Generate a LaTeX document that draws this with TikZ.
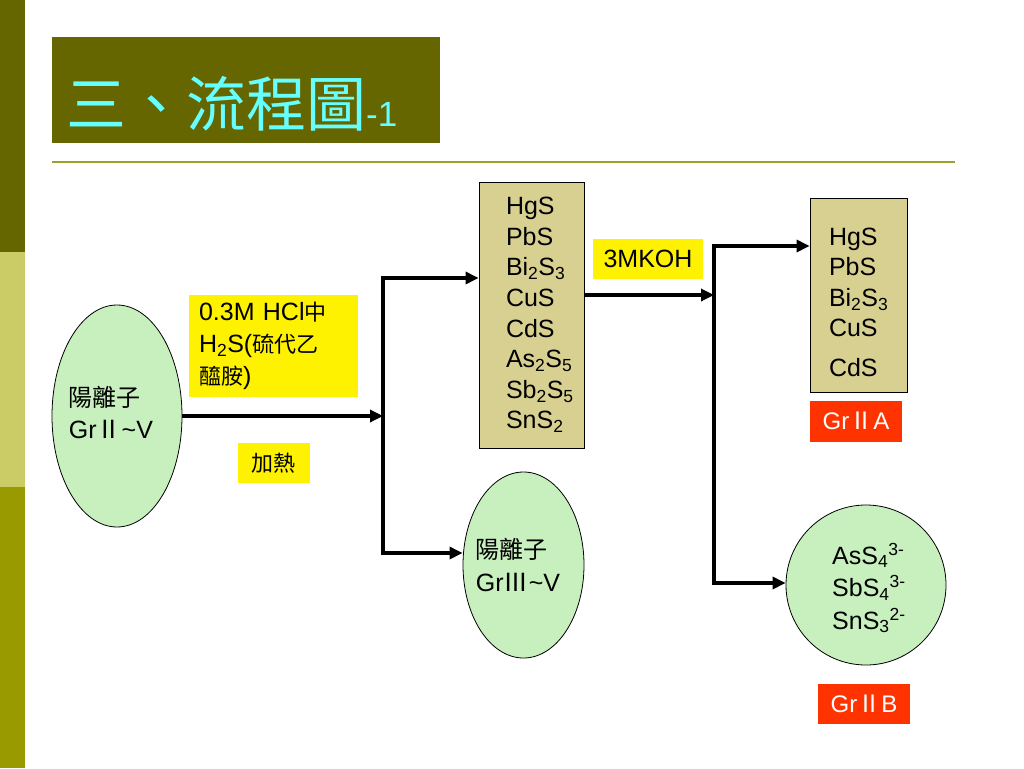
\documentclass[tikz,border=0pt]{standalone}
\usepackage{fontspec}
\setmainfont{Liberation Sans}
\newfontfamily\cjk{Noto Sans CJK TC}
\usepackage{tikz}
\usetikzlibrary{shapes,arrows,arrows.meta,positioning,fit,backgrounds}
\definecolor{olivedark}{RGB}{102,102,0}
\definecolor{olivemid}{RGB}{153,153,0}
\definecolor{olivelight}{RGB}{204,204,102}
\definecolor{rulecol}{RGB}{160,160,40}
\definecolor{titlecyan}{RGB}{102,255,255}
\definecolor{tan}{RGB}{215,208,145}
\definecolor{mint}{RGB}{200,240,190}
\definecolor{tagred}{RGB}{255,51,0}
\newcommand{\zh}[2][22]{{\cjk\fontsize{#1}{#1}\selectfont #2}}
\tikzstyle{tanbox} = [rectangle, draw=black, line width=0.8pt, fill=tan, align=left, inner ysep=0pt, font=\fontsize{25}{30.6}\selectfont]
\tikzstyle{cation} = [ellipse, draw=black, line width=0.8pt, fill=mint]
\tikzstyle{iontext} = [align=left, inner sep=0pt, font=\fontsize{25}{32.5}\selectfont]
\tikzstyle{reagent} = [rectangle, fill=yellow, align=left, font=\fontsize{25}{32}\selectfont]
\tikzstyle{grouptag} = [rectangle, fill=tagred, text=white, font=\fontsize{24}{28}\selectfont]
\tikzstyle{tedge}  = [draw, line width=3.2pt, -{Triangle[length=13pt,width=12pt]}]

\begin{document}
\begin{tikzpicture}[x=1pt, y=-1pt]
\useasboundingbox (0,0) rectangle (1024,768);

% side bar and title =============================
\fill[olivedark] (0,0) rectangle (25,252);
\fill[olivelight] (0,252) rectangle (25,487);
\fill[olivemid] (0,487) rectangle (25,768);
\node[rectangle, fill=olivedark, minimum width=388pt, minimum height=106pt, anchor=north west] (titlebar) at (52,37) {};
\node[anchor=base west, inner sep=0pt, text=titlecyan] (title) at (66,126) {\zh[60]{三、流程圖}{\fontsize{35}{40}\selectfont -1}};
\draw[rulecol, line width=2pt] (52,162) -- (955,162);

% cations =============================
\node[cation, minimum width=130pt, minimum height=222pt] (ion2) at (117,416) {};
\node[iontext] (ion2txt) at ([xshift=-6pt, yshift=3.5pt]ion2.center) {\zh[24]{陽離子}\\Gr{\cjk Ⅱ}\textasciitilde V};
\node[cation, minimum width=121pt, minimum height=186pt] (ion3) at (523.5,565) {};
\node[iontext] (ion3txt) at ([xshift=-5.5pt]ion3.center) {\zh[24]{陽離子}\\Gr{\cjk Ⅲ}\textasciitilde V};

% reagents
\node[reagent, minimum width=169pt, minimum height=102pt, text width=149pt, inner xsep=10pt] (hcl) at (273.5,346) {0.3M HCl\zh{中}\\H\textsubscript{2}S(\zh{硫代乙}\\\zh{醯胺})};
\node[reagent, minimum width=72pt, minimum height=40pt, below=46pt of hcl] (heat) {\zh{加熱}};
\node[reagent, minimum width=110pt, minimum height=40pt] (koh) at (648,259) {3MKOH};

% precipitates
\node[tanbox, minimum width=105pt, minimum height=266pt, text width=51pt, inner xsep=27pt] (precip) at (531.5,315) {HgS\\PbS\\Bi\textsubscript{2}S\textsubscript{3}\\CuS\\CdS\\As\textsubscript{2}S\textsubscript{5}\\Sb\textsubscript{2}S\textsubscript{5}\\SnS\textsubscript{2}};
\node[tanbox, minimum width=97pt, minimum height=194pt, text width=59pt, inner xsep=19pt] (grpA) at (858.5,295) {\rule{0pt}{32pt}HgS\\PbS\\Bi\textsubscript{2}S\textsubscript{3}\\CuS\\[9pt]CdS};
\node[grouptag, minimum width=92pt, minimum height=41pt, below=8pt of grpA, xshift=-2.5pt] (tagA) {Gr{\cjk Ⅱ}A};
\node[cation, minimum size=160pt] (grpB) at (866,585) {};
\node[iontext] (grpBtxt) at ([xshift=3pt, yshift=-3pt]grpB.center) {AsS\textsubscript{4}\textsuperscript{3-}\\SbS\textsubscript{4}\textsuperscript{3-}\\SnS\textsubscript{3}\textsuperscript{2-}};
\node[grouptag, minimum width=92pt, minimum height=40pt, below=18pt of grpB, xshift=-2pt] (tagB) {Gr{\cjk Ⅱ}B};

% edges
\coordinate (fork1) at (383,278);
\coordinate (fork1b) at (383,553);
\coordinate (split2) at (714,295);
\coordinate (fork2) at (714,246);
\coordinate (fork2b) at (714,583);
\path[tedge] (ion2.east) -- (ion2.east -| fork1);
\path[tedge] (fork1b) -- (fork1) -- (fork1 -| precip.west);
\path[tedge] (fork1) -- (fork1b) -- (fork1b -| ion3.west);
\path[tedge] (split2 -| precip.east) -- (split2);
\path[tedge] (fork2b) -- (fork2) -- (fork2 -| grpA.west);
\path[tedge] (fork2) -- (fork2b) -- (fork2b -| grpB.west);

\end{tikzpicture}
\end{document}
